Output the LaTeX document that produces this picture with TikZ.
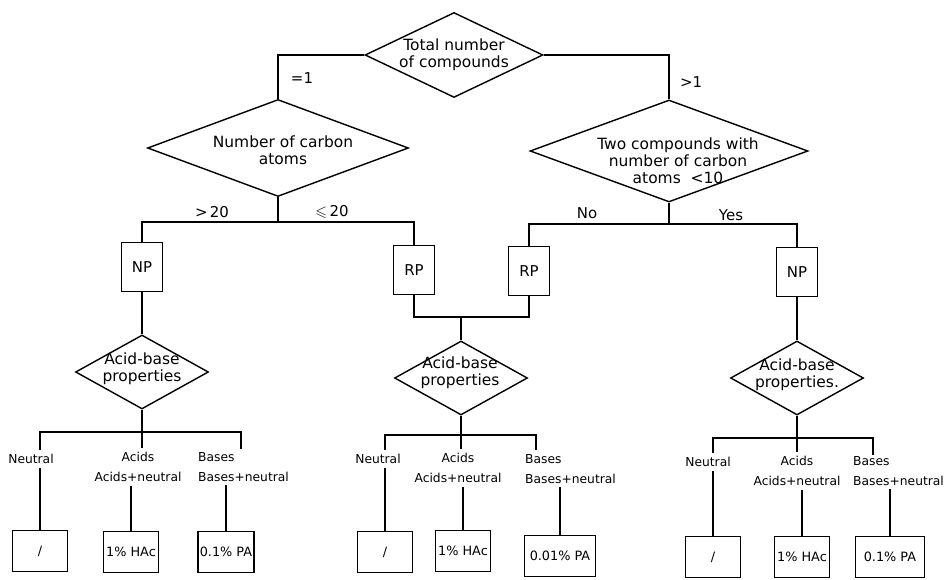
\documentclass[tikz,border=0pt]{standalone}
\usepackage{fontspec}
\setmainfont{DejaVu Sans}
\usepackage{amssymb}
\usetikzlibrary{shapes.geometric}
\begin{document}
\begin{tikzpicture}[x=0.02cm, y=-0.02cm, line width=0.8pt,
    decision/.style={diamond, draw, inner sep=0pt},
    dtext/.style={align=center, inner sep=0pt, font=\fontsize{8.8}{9.6}\selectfont},
    acidbase/.style={decision, minimum width=2.66cm, minimum height=1.48cm},
    method/.style={draw, minimum width=0.82cm, minimum height=0.98cm, font=\fontsize{8.5}{10}\selectfont},
    branch/.style={font=\fontsize{8.5}{10}\selectfont},
    leaf/.style={align=center, inner sep=2pt, font=\fontsize{7}{11}\selectfont},
    result/.style={draw, minimum width=1.1cm, minimum height=0.83cm, inner sep=1pt, font=\fontsize{7.3}{9}\selectfont}]
    \useasboundingbox (0,0) rectangle (946,580);
    % first two questions
    \node[decision, minimum width=3.56cm, minimum height=1.7cm] (total) at (454,55) {};
    \node[dtext] (total-txt) at (total) {Total number\\of compounds};
    \node[decision, minimum width=5.22cm, minimum height=1.94cm] (carbon) at (278,148) {};
    \node[dtext] (carbon-txt) at (283,150) {Number of carbon\\atoms};
    \node[decision, minimum width=5.56cm, minimum height=2.04cm] (two) at (669,151) {};
    \node[dtext] (two-txt) at (678,161) {Two compounds with\\number of carbon\\atoms~~<10};
    \node[branch] (eq1) at (302,78) {=1};
    \node[branch] (gt1) at (691,82) {>1};
    \draw (total.west) -| (carbon.north);
    \draw (total.east) -| (two.north);
    % phases
    \node[method] (npL) at (142,267) {NP};
    \node[method] (rpL) at (414,270) {RP};
    \node[method] (rpR) at (529,271) {RP};
    \node[method] (npR) at (797,272) {NP};
    \coordinate (carbon-bar) at (278,222);
    \coordinate (two-bar) at (669,224);
    \draw (carbon.south) -- (carbon-bar);
    \draw (npL.north) |- (carbon-bar) -| (rpL.north);
    \draw (two.south) -- (two-bar);
    \draw (rpR.north) |- (two-bar) -| (npR.north);
    \node[branch] (gt20) at (212,212) {>\,20};
    \node[branch] (le20) at (332,212) {$\leqslant$\,20};
    \node[branch] (no) at (587,213) {No};
    \node[branch] (yes) at (731,215) {Yes};
    % acid-base questions
    \node[acidbase] (acidL) at (142,372) {};
    \node[dtext] (acidL-txt) at (142,369) {Acid-base\\properties};
    \node[acidbase] (acidM) at (461,378) {};
    \node[dtext] (acidM-txt) at (460,373) {Acid-base\\properties};
    \node[acidbase] (acidR) at (797,378) {};
    \node[dtext] (acidR-txt) at (797,375) {Acid-base\\properties.};
    \coordinate (rp-bar) at (461,317);
    \draw (npL.south) -- (acidL.north);
    \draw (rpL.south) |- (rp-bar) -| (rpR.south);
    \draw (rp-bar) -- (acidM.north);
    \draw (npR.south) -- (acidR.north);
    % left leaves
    \node[leaf] (neutL) at (31,459) {Neutral};
    \node[leaf] (acidsL) at (138,467) {Acids\\Acids+neutral};
    \node[leaf, align=left, anchor=west] (basesL) at (194,467) {Bases\\Bases+neutral};
    \node[result] (slashL) at (40,551) {/};
    \node[result] (hacL) at (131,552) {1\% HAc};
    \node[result] (paL) at (226,552) {0.1\% PA};
    \coordinate (bar-l) at (142,432);
    \coordinate (end-l) at (241,449);
    \draw (acidL.south) -- (acidL.south |- acidsL.north);
    \draw (slashL.north |- neutL.north) |- (bar-l) -| (end-l);
    \draw (slashL.north) -- (slashL.north |- neutL.south);
    \draw (hacL.north) -- (hacL.north |- acidsL.south);
    \draw (paL.north) -- (paL.north |- basesL.south);
    % middle leaves
    \node[leaf] (neutM) at (378,459) {Neutral};
    \node[leaf] (acidsM) at (458,468) {Acids\\Acids+neutral};
    \node[leaf, align=left, anchor=west] (basesM) at (521,469) {Bases\\Bases+neutral};
    \node[result] (slashM) at (385,552) {/};
    \node[result] (hacM) at (463,551) {1\% HAc};
    \node[result, minimum width=1.42cm] (paM) at (560,556) {0.01\% PA};
    \coordinate (bar-m) at (461,435);
    \coordinate (end-m) at (536,450);
    \draw (acidM.south) -- (acidM.south |- acidsM.north);
    \draw (slashM.north |- neutM.north) |- (bar-m) -| (end-m);
    \draw (slashM.north) -- (slashM.north |- neutM.south);
    \draw (hacM.north) -- (hacM.north |- acidsM.south);
    \draw (paM.north) -- (paM.north |- basesM.south);
    % right leaves
    \node[leaf] (neutR) at (708,462) {Neutral};
    \node[leaf] (acidsR) at (797,471) {Acids\\Acids+neutral};
    \node[leaf, align=left, anchor=west] (basesR) at (849,471) {Bases\\Bases+neutral};
    \node[result] (slashR) at (713,557) {/};
    \node[result] (hacR) at (802,557) {1\% HAc};
    \node[result, minimum width=1.38cm] (paR) at (890,557) {0.1\% PA};
    \coordinate (bar-r) at (797,438);
    \coordinate (end-r) at (873,455);
    \draw (acidR.south) -- (acidR.south |- acidsR.north);
    \draw (slashR.north |- neutR.north) |- (bar-r) -| (end-r);
    \draw (slashR.north) -- (slashR.north |- neutR.south);
    \draw (hacR.north) -- (hacR.north |- acidsR.south);
    \draw (paR.north) -- (paR.north |- basesR.south);
\end{tikzpicture}
\end{document}
